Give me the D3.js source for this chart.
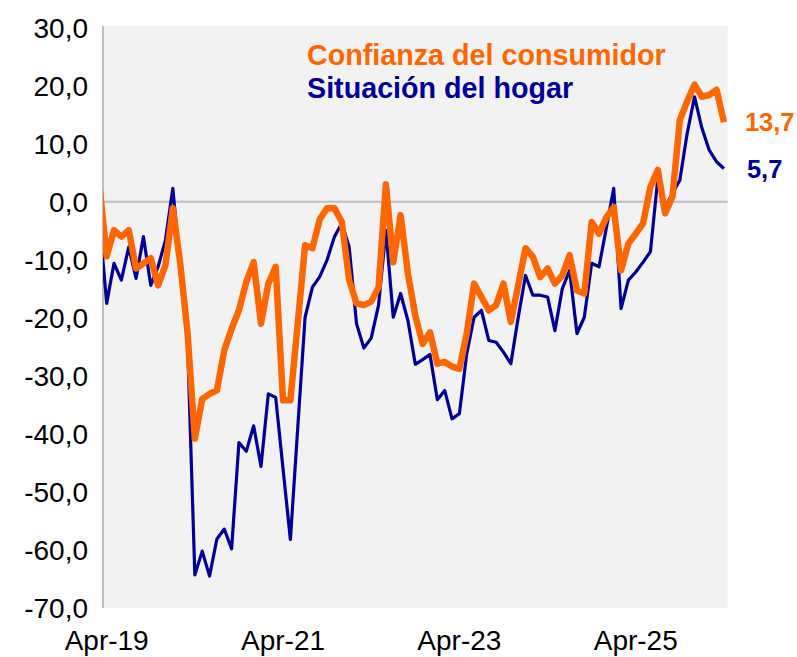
<!DOCTYPE html>
<html>
<head>
<meta charset="utf-8">
<script src="https://cdn.jsdelivr.net/npm/d3@7"></script>
<style>
  html, body { margin: 0; padding: 0; background: #fff; }
  svg text { font-family: "Liberation Sans", Arial, sans-serif; }
</style>
</head>
<body>
<svg width="797" height="657"></svg>
<script>
// monthly series, Mar-19 .. Apr-26 (Mar-19 sits left of the axis and gets clipped)
const firstMonth = new Date(2019, 2, 1)
const axisStart = new Date(2019, 3, 1)
const months = d3.timeMonth.range(firstMonth, new Date(2026, 4, 1))

const confianza = [
  3.0, -9.4, -4.9, -6.0, -4.9, -11.5, -10.6, -9.7, -14.4, -10.9,
  -1.1, -10.5, -22.5, -40.8, -34.0, -33.1, -32.5, -25.6, -21.9, -18.7,
  -13.8, -10.4, -21.0, -14.1, -11.2, -34.2, -34.2, -21.0, -7.5, -8.0,
  -3.0, -1.1, -1.1, -3.5, -13.5, -17.5, -17.8, -17.2, -14.7, 3.0,
  -10.4, -2.3, -12.4, -19.6, -24.5, -22.5, -27.9, -27.6, -28.4, -28.8,
  -22.7, -14.1, -16.4, -18.7, -17.8, -14.1, -20.7, -14.4, -8.0, -9.5,
  -13.0, -11.5, -14.1, -12.7, -9.2, -15.3, -15.8, -3.5, -5.5, -2.7,
  -0.9, -11.8, -7.2, -5.5, -3.7, 2.6, 5.5, -2.0, 0.9, 14.1,
  17.3, 20.2, 18.1, 18.4, 19.3, 13.7
]

const hogar = [
  -3.0, -17.5, -10.6, -13.5, -7.8, -13.2, -6.0, -14.4, -11.2, -6.6,
  2.3, -11.0, -24.0, -64.3, -60.2, -64.5, -58.1, -56.4, -59.8, -41.5,
  -43.0, -38.6, -45.6, -33.1, -33.7, -46.0, -58.2, -39.0, -19.9, -14.7,
  -12.9, -10.0, -6.0, -3.7, -7.8, -21.0, -25.2, -23.5, -17.8, -4.9,
  -19.9, -15.8, -20.5, -28.0, -27.2, -26.3, -34.1, -32.5, -37.4, -36.5,
  -26.2, -19.9, -18.7, -23.9, -24.2, -25.9, -27.9, -20.0, -12.7, -16.1,
  -16.1, -16.4, -22.2, -15.0, -11.8, -22.7, -19.9, -10.6, -11.2, -4.5,
  2.3, -18.4, -13.5, -12.1, -10.4, -8.6, 4.0, -1.0, 1.5, 3.7,
  11.8, 18.1, 12.7, 8.9, 6.9, 5.7
]

const seriesNames = ['Confianza del consumidor', 'Situación del hogar']
const xTickLabels = ['Apr-19', 'Apr-21', 'Apr-23', 'Apr-25']
const yTicks = [30, 20, 10, 0, -10, -20, -30, -40, -50, -60, -70]

const orange = '#ff6600'
const navy = '#000099'

let plotLeft = 103
let plotRight = 727.6
let plotTop = 27.7
let plotBottom = 608

const locale = d3.formatLocale({
  decimal: ',', thousands: '.', grouping: [3], currency: ['', ''], minus: '-'
})
const fmt = locale.format('.1f')

// month index relative to Apr-19
const monthIndex = d => d3.timeMonth.count(axisStart, d)

let xScale = d3.scaleLinear()
               .domain([-0.5, 84.5])
               .range([plotLeft, plotRight])

let yScale = d3.scaleLinear()
               .domain([-70, 30])
               .range([plotBottom, plotTop])

const svg = d3.select('svg')

// plot background
svg.append('rect')
    .attr('x', plotLeft)
    .attr('y', yScale(30) - 1.5)
    .attr('width', plotRight - plotLeft)
    .attr('height', yScale(-70) - yScale(30) + 1.5)
    .attr('fill', '#f2f2f2')

svg.append('clipPath')
    .attr('id', 'plot-clip')
  .append('rect')
    .attr('x', plotLeft)
    .attr('y', 0)
    .attr('width', plotRight - plotLeft)
    .attr('height', 657)

// zero line
svg.append('line')
    .attr('x1', plotLeft)
    .attr('x2', plotRight)
    .attr('y1', yScale(0))
    .attr('y2', yScale(0))
    .attr('stroke', '#bfbfbf')
    .attr('stroke-width', 2)

// left axis line
svg.append('line')
    .attr('x1', plotLeft)
    .attr('x2', plotLeft)
    .attr('y1', yScale(30) - 1.5)
    .attr('y2', yScale(-70))
    .attr('stroke', '#bfbfbf')
    .attr('stroke-width', 2)

// y tick labels
svg.append('g')
  .selectAll('text')
  .data(yTicks)
  .enter()
  .append('text')
    .attr('x', 88)
    .attr('y', d => yScale(d))
    .attr('dy', '0.36em')
    .style('text-anchor', 'end')
    .style('font-size', '28px')
    .attr('fill', '#000')
    .text(d => fmt(d))

// x tick labels
const parseLabel = d3.timeParse('%b-%y')
svg.append('g')
  .selectAll('text')
  .data(xTickLabels)
  .enter()
  .append('text')
    .attr('x', d => xScale(monthIndex(parseLabel(d))))
    .attr('y', 650)
    .style('text-anchor', 'middle')
    .style('font-size', '28px')
    .attr('fill', '#000')
    .text(d => d)

let line = d3.line()
             .x((d, i) => xScale(monthIndex(months[i])))
             .y(d => yScale(d))

const lines = svg.append('g')
    .attr('clip-path', 'url(#plot-clip)')

lines.append('path')
    .datum(hogar)
    .attr('d', line)
    .attr('fill', 'none')
    .attr('stroke', navy)
    .attr('stroke-width', 3.2)
    .attr('stroke-linejoin', 'round')

lines.append('path')
    .datum(confianza)
    .attr('d', line)
    .attr('fill', 'none')
    .attr('stroke', orange)
    .attr('stroke-width', 6.5)
    .attr('stroke-linejoin', 'round')

// legend
svg.append('text')
    .attr('x', 307)
    .attr('y', 65)
    .style('font-size', '28.7px')
    .style('font-weight', 'bold')
    .attr('fill', orange)
    .text(seriesNames[0])

svg.append('text')
    .attr('x', 307)
    .attr('y', 98)
    .style('font-size', '28.7px')
    .style('font-weight', 'bold')
    .attr('fill', navy)
    .text(seriesNames[1])

// end-of-series value labels
const lastI = months.length - 1
const lastX = xScale(monthIndex(months[lastI]))

svg.append('text')
    .attr('x', lastX + 21)
    .attr('y', yScale(confianza[lastI]))
    .attr('dy', '0.36em')
    .style('font-size', '25.5px')
    .style('font-weight', 'bold')
    .attr('fill', orange)
    .text(fmt(confianza[lastI]))

svg.append('text')
    .attr('x', lastX + 23)
    .attr('y', yScale(hogar[lastI]))
    .attr('dy', '0.36em')
    .style('font-size', '25.5px')
    .style('font-weight', 'bold')
    .attr('fill', navy)
    .text(fmt(hogar[lastI]))
</script>
</body>
</html>
